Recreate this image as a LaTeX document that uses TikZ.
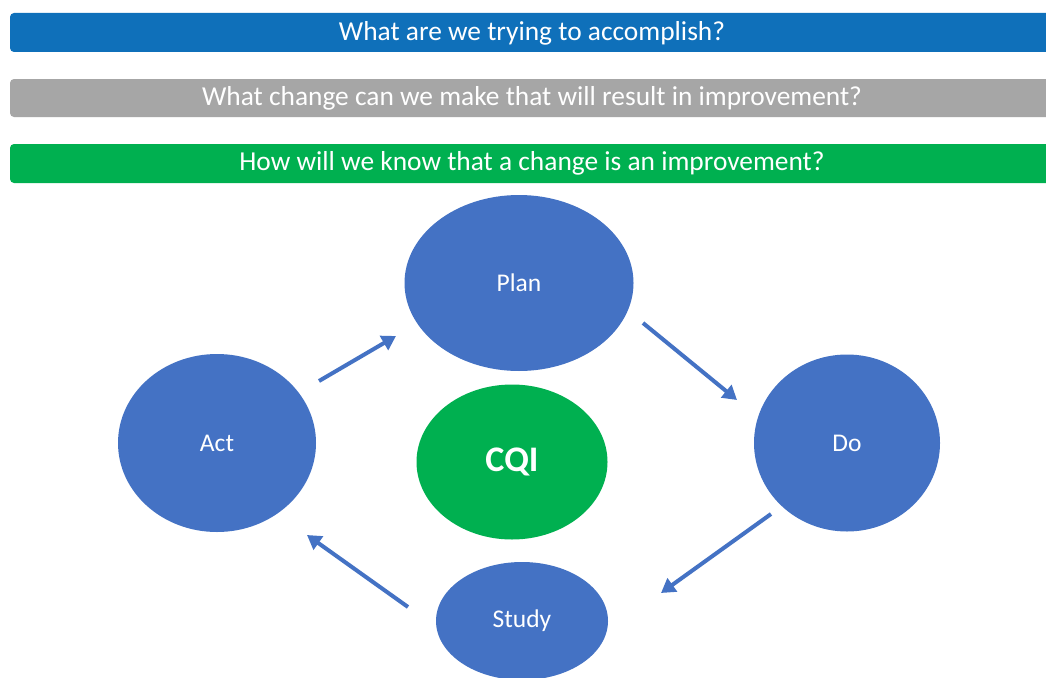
\documentclass[tikz,border=0pt]{standalone}
\usepackage{fontspec}
\setmainfont{Carlito}
\usetikzlibrary{arrows.meta,shapes.geometric}
\definecolor{barblue}{HTML}{0F70BA}
\definecolor{bargray}{HTML}{A6A6A6}
\definecolor{bargreen}{HTML}{00B050}
\definecolor{cycblue}{HTML}{4472C4}
\tikzset{
  bar/.style={fill=#1, draw=none, rounded corners=4pt},
  bartext/.style={text=white, font=\fontsize{27.4}{32}\selectfont, inner sep=0pt},
  phase/.style={ellipse, fill=cycblue, draw=none, text=white, font=\fontsize{25.5}{30}\selectfont},
  flowarrow/.style={draw=cycblue, line width=4pt, -{Triangle[length=14pt,width=16pt]}},
}
\begin{document}
\begin{tikzpicture}[x=1pt, y=-1pt]
\useasboundingbox (0,0) rectangle (1046,677);
\clip (0,0) rectangle (1046,677);
\fill[white] (0,0) rectangle (1046,677);

% question bars
\path[bar=barblue]  (10,13)  rectangle (1060,52);
\path[bar=bargray]  (10,79)  rectangle (1060,117);
\path[bar=bargreen] (10,144) rectangle (1060,183);
\node[bartext] (q1) at (532,33)  {What are we trying to accomplish?};
\node[bartext] (q2) at (532,98)  {What change can we make that will result in improvement?};
\node[bartext] (q3) at (532,163) {How will we know that a change is an improvement?};

% PDSA phases
\node[phase, minimum width=229pt, minimum height=176pt] (plan)  at (519,283) {Plan};
\node[phase, minimum width=186pt, minimum height=177pt] (do)    at (847,443) {Do};
\node[phase, minimum width=172pt, minimum height=118pt] (study) at (522,621) {Study};
\node[phase, minimum width=198pt, minimum height=178pt] (act)   at (217,443) {Act};
\node[ellipse, fill=bargreen, text=white, font=\bfseries\fontsize{36}{42}\selectfont,
      minimum width=191pt, minimum height=155pt] (cqi) at (512,462) {CQI};

% arrow end points between the phases
\coordinate (a1) at (319,381); \coordinate (a2) at (396,336);
\coordinate (b1) at (643,323); \coordinate (b2) at (737,400);
\coordinate (c1) at (771,514); \coordinate (c2) at (661,593);
\coordinate (d1) at (408,607); \coordinate (d2) at (307,535);

\draw[flowarrow] (a1) -- (a2);
\draw[flowarrow] (b1) -- (b2);
\draw[flowarrow] (c1) -- (c2);
\draw[flowarrow] (d1) -- (d2);
\end{tikzpicture}
\end{document}
